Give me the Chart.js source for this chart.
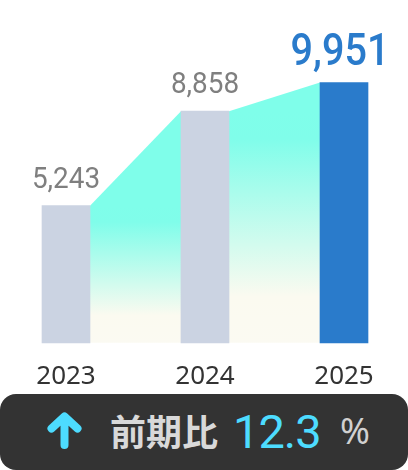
<!DOCTYPE html>
<html>
<head>
<meta charset="utf-8">
<script src="https://cdn.jsdelivr.net/npm/chart.js@4.4.1/dist/chart.umd.min.js"></script>
<style>
  html, body { margin: 0; padding: 0; background: #fff; }
  body { width: 408px; height: 470px; position: relative; overflow: hidden; }
  #wrap { position: absolute; left: 0; top: 0; width: 408px; height: 414px; }
  .banner { position: absolute; left: 0; top: 394px; width: 408px; height: 76px; background: #333; border-radius: 16px; }
  .banner span { position: absolute; white-space: nowrap; }
  #arrow { position: absolute; left: 47px; top: 18px; width: 35px; height: 37px; }
  #lbl { left: 110px; top: 18px; font: bold 36px/36px "Noto Sans CJK JP", sans-serif; color: #d9d9d9; }
  #val { left: 233px; top: 14px; font: 400 47px/47px Roboto, sans-serif; color: #4ddcff; letter-spacing: -1px; }
  #unit { left: 340px; top: 19px; font: 400 36px/36px "Noto Sans", sans-serif; color: #d0d0d0; }
</style>
</head>
<body>
<div id="wrap"><canvas id="myChart"></canvas></div>
<div class="banner">
  <svg id="arrow" viewBox="0 0 35 37">
    <path d="M17.5 33 V6 M4.5 16.5 L17.5 4.5 L30.5 16.5" stroke="#4ddcff" stroke-width="8" stroke-linecap="round" stroke-linejoin="round" fill="none"/>
  </svg>
  <span id="lbl"></span><span id="val"></span><span id="unit"></span>
</div>
<script>
// data
const years = ['2023', '2024', '2025'];
const sales = [5243, 8858, 9951];
const yMax = 12000;
const changeLabel = '前期比';
const changeValue = '12.3';
const changeUnit = '%';

document.getElementById('lbl').textContent = changeLabel;
document.getElementById('val').textContent = changeValue;
document.getElementById('unit').textContent = changeUnit;

const last = sales.length - 1;

// gradient area between the tops of neighbouring bars
const areaPlugin = {
  id: 'areaBetween',
  beforeDatasetsDraw(chart) {
    const bars = chart.getDatasetMeta(0).data;
    const ctx = chart.ctx;
    ctx.save();
    for (let i = 0; i < bars.length - 1; i++) {
      const a = bars[i], b = bars[i + 1];
      const x1 = a.x + a.width / 2;
      const x2 = b.x - b.width / 2;
      const top = Math.max(a.y, b.y);
      const g = ctx.createLinearGradient(0, top, 0, a.base);
      g.addColorStop(0, '#7ffeea');
      g.addColorStop(0.12, '#80fdea');
      g.addColorStop(0.8, '#fbfaf0');
      g.addColorStop(1, '#fbfaf2');
      ctx.fillStyle = g;
      ctx.beginPath();
      ctx.moveTo(x1, a.y);
      ctx.lineTo(x2, b.y);
      ctx.lineTo(x2, b.base);
      ctx.lineTo(x1, a.base);
      ctx.closePath();
      ctx.fill();
    }
    ctx.restore();
  }
};

// value labels over bars
const valuePlugin = {
  id: 'valueLabels',
  afterDatasetsDraw(chart) {
    const bars = chart.getDatasetMeta(0).data;
    const ctx = chart.ctx;
    bars.forEach((bar, i) => {
      const big = i === last;
      ctx.save();
      ctx.translate(bar.x - (big ? 4 : 0), bar.y - 18);
      ctx.scale(big ? 0.88 : 0.93, 1);
      ctx.font = big ? '500 45px Roboto' : '400 30px Roboto';
      ctx.fillStyle = big ? '#2a7bcb' : '#7f7f7f';
      ctx.textAlign = 'center';
      ctx.textBaseline = 'alphabetic';
      ctx.fillText(sales[i].toLocaleString('en-US'), 0, 0);
      ctx.restore();
    });
  }
};

const ctx = document.getElementById('myChart').getContext('2d');
new Chart(ctx, {
  type: 'bar',
  data: {
    labels: years,
    datasets: [{
      data: sales,
      backgroundColor: c => c.dataIndex === last ? '#2a7bcb' : '#cbd3e2',
      barThickness: 48,
      borderWidth: 0,
      clip: false
    }]
  },
  options: {
    responsive: true,
    maintainAspectRatio: false,
    animation: false,
    layout: { padding: { left: 66, right: 64, top: 29, bottom: 12 } },
    plugins: { legend: { display: false }, tooltip: { enabled: false } },
    scales: {
      x: {
        offset: false,
        grid: { display: false },
        border: { display: false },
        ticks: {
          color: '#333',
          font: { family: 'Noto Sans', size: 26 },
          padding: 10,
          maxRotation: 0,
          autoSkip: false
        }
      },
      y: { display: false, min: 0, max: yMax }
    }
  },
  plugins: [areaPlugin, valuePlugin]
});
</script>
</body>
</html>
